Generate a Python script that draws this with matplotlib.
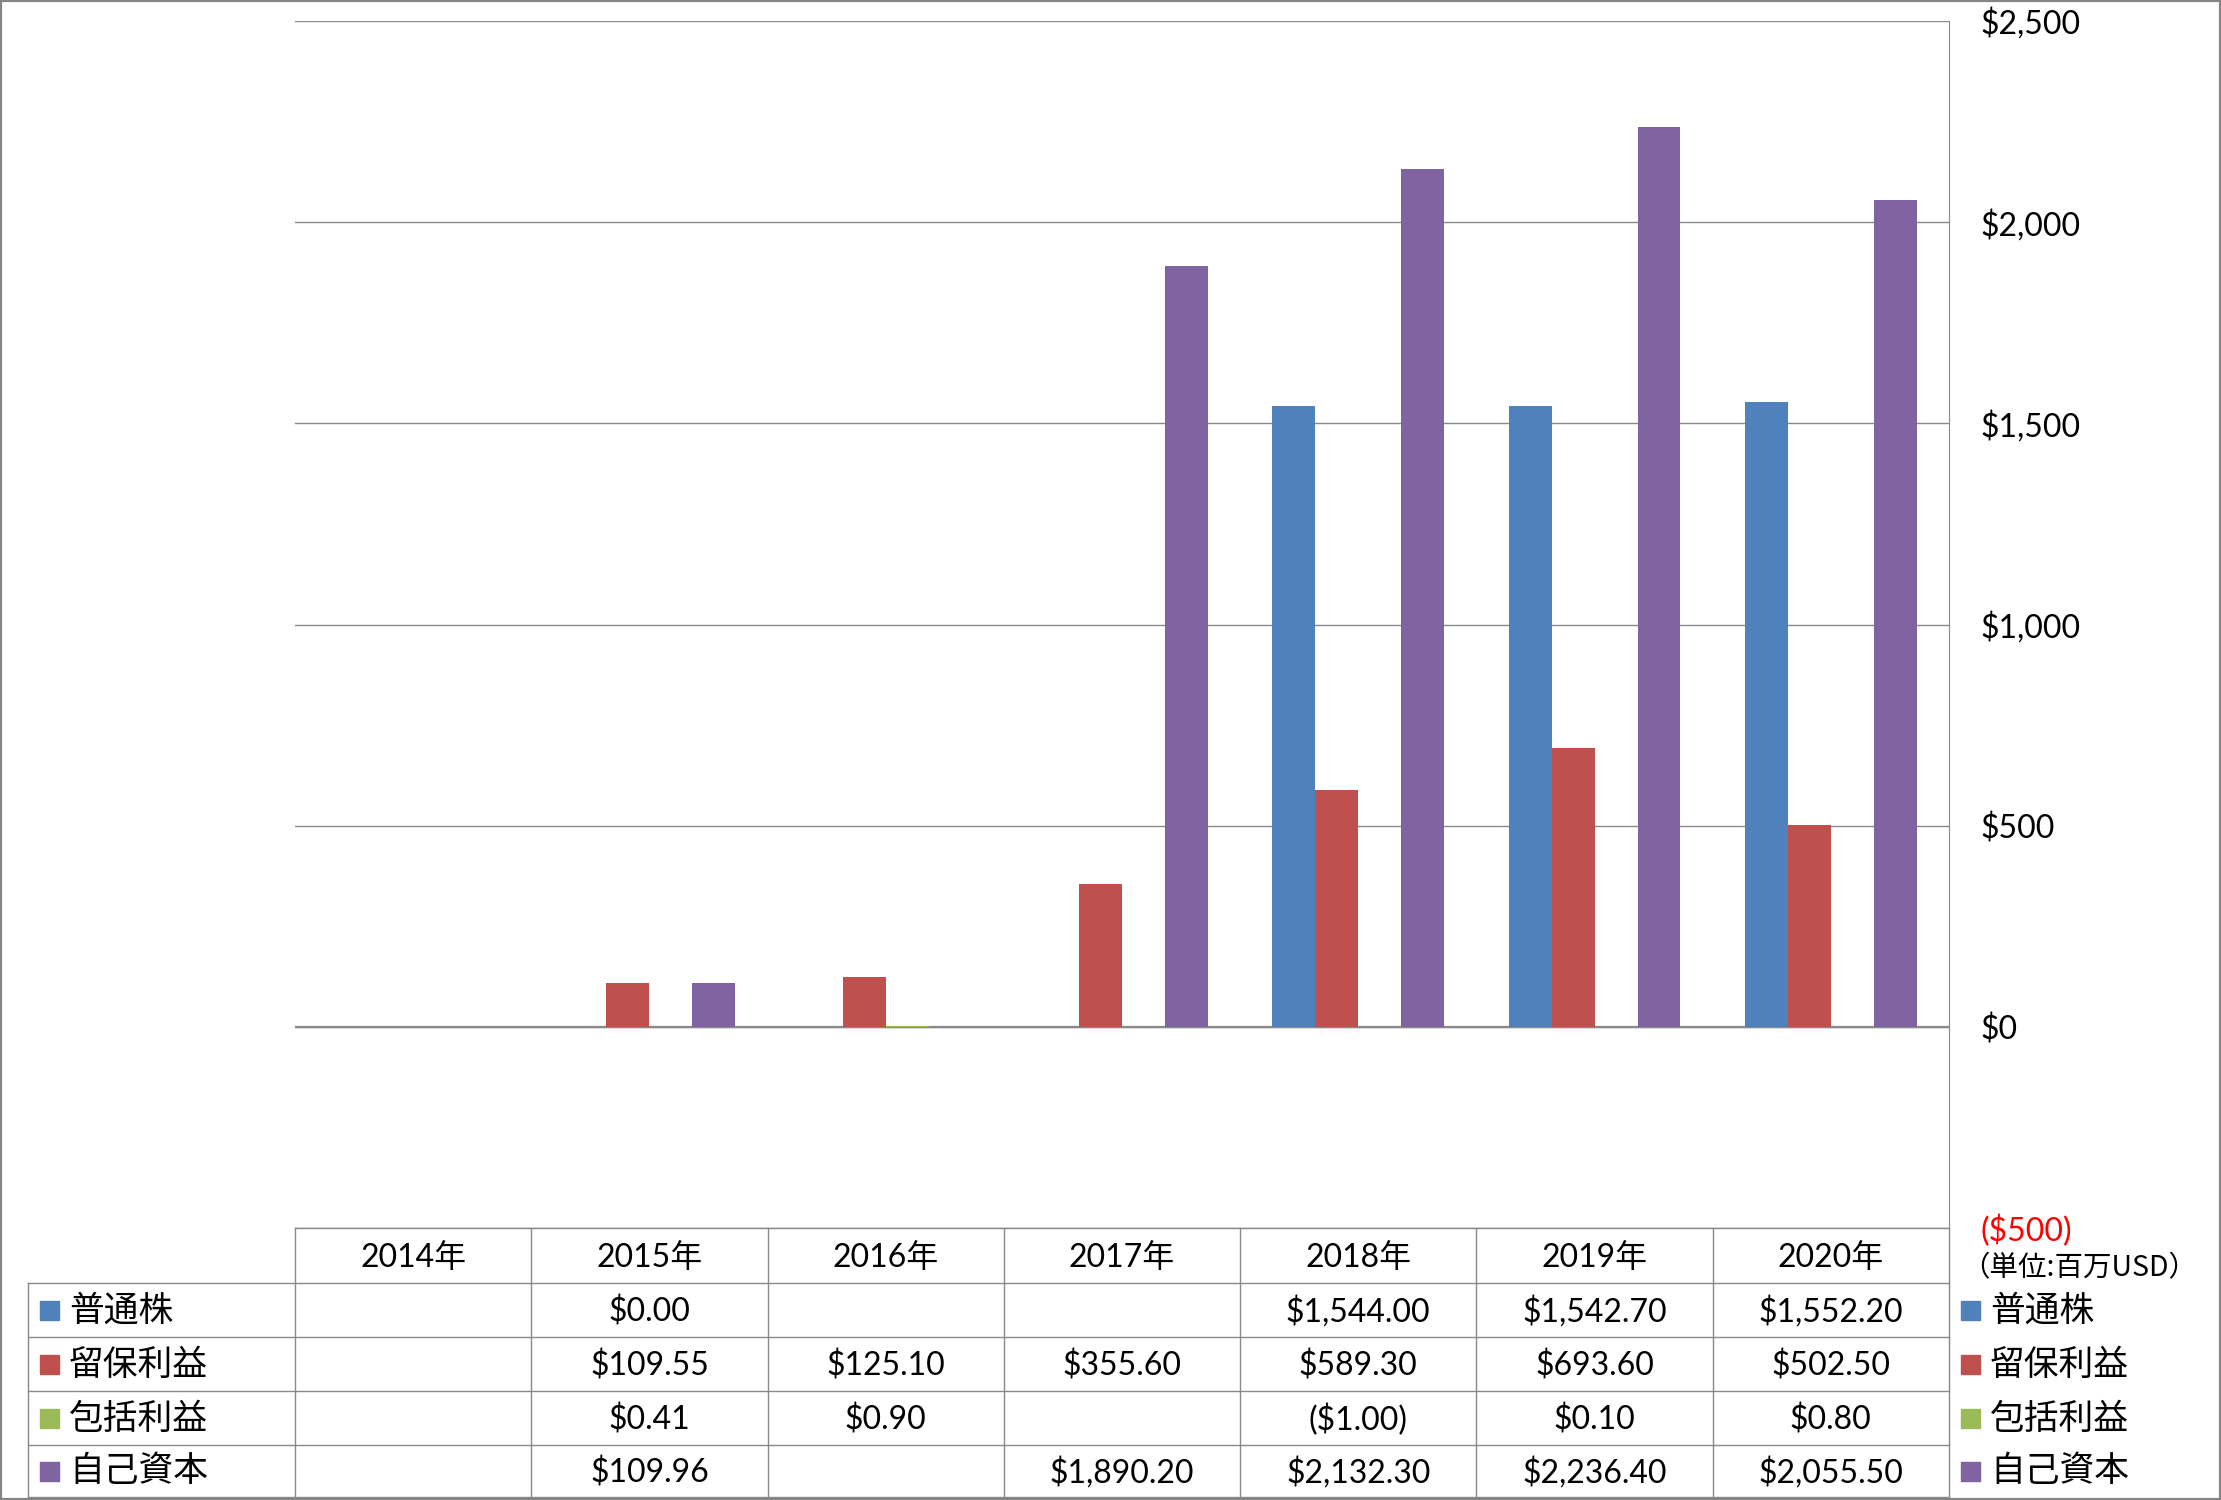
import numpy as np
import matplotlib
matplotlib.use("Agg")
import matplotlib.pyplot as plt
import matplotlib.transforms as mtransforms
from matplotlib.lines import Line2D
from matplotlib.patches import Rectangle

plt.rcParams['font.family'] = ['Lato', 'Noto Sans CJK JP', 'DejaVu Sans']

years = ["2014年", "2015年", "2016年", "2017年", "2018年", "2019年", "2020年"]
series = ["普通株", "留保利益", "包括利益", "自己資本"]
common_stock = [np.nan, 0.00, np.nan, np.nan, 1544.00, 1542.70, 1552.20]
retained = [np.nan, 109.55, 125.10, 355.60, 589.30, 693.60, 502.50]
comprehensive = [np.nan, 0.41, 0.90, np.nan, -1.00, 0.10, 0.80]
equity = [np.nan, 109.96, np.nan, 1890.20, 2132.30, 2236.40, 2055.50]
yticks = [-500, 0, 500, 1000, 1500, 2000, 2500]

colors = ["#4F81BD", "#C0504D", "#9BBB59", "#8064A2"]
line_gray = "#898989"

W, H = 2221, 1500
fx = lambda p: p / W
fy = lambda p: 1 - p / H


def money(v):
    if np.isnan(v):
        return ""
    if v < 0:
        return "(${:,.2f})".format(abs(v))
    return "${:,.2f}".format(v)


def axis_money(v):
    if v < 0:
        return "(${:,.0f})".format(abs(v))
    return "${:,.0f}".format(v)


fig = plt.figure(figsize=(W / 100, H / 100), dpi=100)
ax = fig.add_axes([fx(295), fy(1228), fx(1949) - fx(295), fy(21) - fy(1228)])

values = [common_stock, retained, comprehensive, equity]
x = np.arange(len(years))
w = 1 / 5.5
for i, (vals, c) in enumerate(zip(values, colors)):
    ax.bar(x + (i - 1.5) * w, vals, width=w, color=c, zorder=3)

ax.set_xlim(-0.5, len(years) - 0.5)
ax.set_ylim(-500, 2500)
ax.set_yticks(yticks, [axis_money(v) for v in yticks])
ax.yaxis.tick_right()
ax.tick_params(axis='y', length=0, pad=23, labelsize=23)
ax.get_yticklabels()[0].set_color("red")
ax.set_xticks([])
ax.grid(axis='y', color=line_gray, lw=1)
ax.axhline(0, color=line_gray, lw=1.6, zorder=2)
for s in ["top", "left", "bottom"]:
    ax.spines[s].set_visible(False)
ax.spines["right"].set_color(line_gray)

# data table under the plot
tr = mtransforms.blended_transform_factory(ax.transData, fig.transFigure)
rows_y = [1228, 1283, 1337, 1391, 1445, 1497]
for xb in np.arange(-0.5, len(years), 1):
    fig.add_artist(Line2D([xb, xb], [fy(1228), fy(1497)], transform=tr, color=line_gray, lw=1))
fig.add_artist(Line2D([fx(28), fx(28)], [fy(1283), fy(1497)], transform=fig.transFigure, color=line_gray, lw=1))
fig.add_artist(Line2D([fx(295), fx(1949)], [fy(1228), fy(1228)], transform=fig.transFigure, color=line_gray, lw=1))
for yb in rows_y[1:]:
    fig.add_artist(Line2D([fx(28), fx(1949)], [fy(yb), fy(yb)], transform=fig.transFigure, color=line_gray, lw=1))

head_y = (rows_y[0] + rows_y[1]) / 2 + 2
for xi, yr in zip(x, years):
    fig.text(xi, fy(head_y), yr, transform=tr, ha="center", va="center", fontsize=23)

for r, (name, vals, c) in enumerate(zip(series, values, colors)):
    cy = (rows_y[r + 1] + rows_y[r + 2]) / 2
    fig.add_artist(Rectangle((fx(40), fy(cy + 9.5)), fx(19), 19 / H, transform=fig.transFigure, color=c))
    fig.text(fx(69), fy(cy + 1), name, ha="left", va="center", fontsize=25, family=['Noto Sans CJK JP'])
    for xi, v in zip(x, vals):
        fig.text(xi, fy(cy + 2), money(v), transform=tr, ha="center", va="center", fontsize=23)
    # legend on the right
    fig.add_artist(Rectangle((fx(1961), fy(cy + 9.5)), fx(19), 19 / H, transform=fig.transFigure, color=c))
    fig.text(fx(1990), fy(cy + 1), name, ha="left", va="center", fontsize=25, family=['Noto Sans CJK JP'])

fig.text(fx(2079), fy(1268), "（単位:百万USD）", ha="center", va="center", fontsize=20.5,
         family=['Noto Sans CJK JP'])

fig.add_artist(Rectangle((0, 0), 1, 1, transform=fig.transFigure, fill=False, edgecolor="#858585", lw=3))

fig.savefig("out.png", dpi=100)
